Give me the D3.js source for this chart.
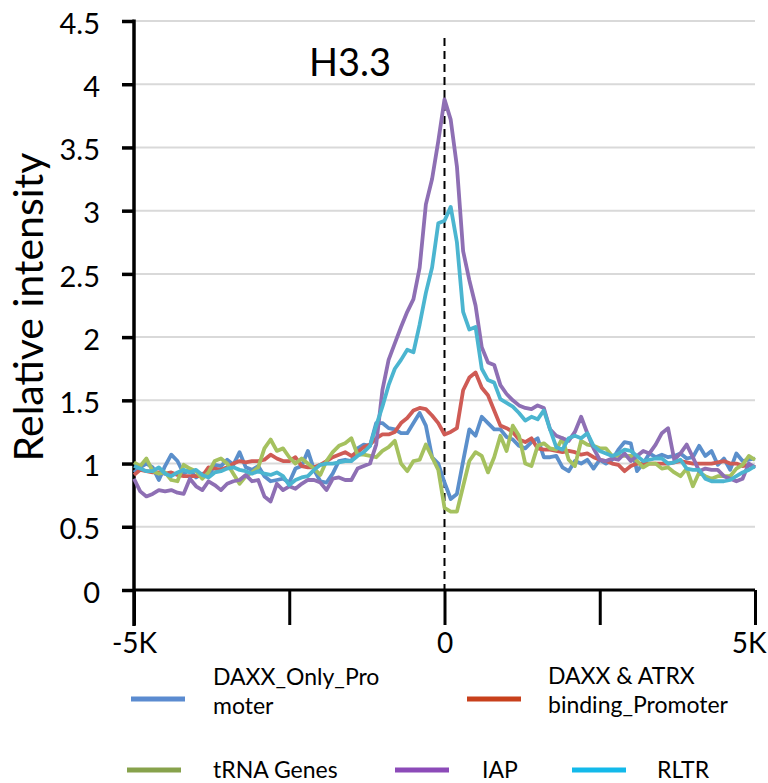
<!DOCTYPE html>
<html>
<head>
<meta charset="utf-8">
<script src="https://cdn.jsdelivr.net/npm/d3@7"></script>
<style>
  html, body { margin: 0; padding: 0; background: #fff; }
  svg { display: block; font-family: Lato, "Open Sans", sans-serif; }
</style>
</head>
<body>
<svg id="chart" width="768" height="783"></svg>
<script>
// Distance from the site centre, in bp (100 bp bins)
const positions = d3.range(-5000, 5001, 100);

const daxxOnly = [0.93,0.97,1.00,0.97,0.87,0.98,1.07,1.02,0.92,0.95,0.89,0.92,0.90,0.99,0.98,1.03,0.99,1.09,0.97,0.95,
  0.98,0.90,0.86,0.87,0.88,0.85,0.96,0.98,1.10,0.95,0.86,0.85,0.92,1.02,1.03,1.02,1.12,1.15,1.14,1.32,
  1.32,1.28,1.27,1.24,1.24,1.32,1.40,1.30,1.05,1.00,0.85,0.72,0.76,1.02,1.27,1.22,1.37,1.32,1.27,1.27,
  1.21,1.19,1.14,1.12,1.17,1.20,1.05,1.05,1.06,0.97,0.94,1.02,1.00,1.03,0.96,1.03,1.00,1.03,1.11,1.17,
  1.16,0.94,1.00,1.08,1.05,1.07,1.05,1.06,1.08,1.04,1.05,1.14,1.06,1.10,0.99,1.04,0.95,1.08,1.02,1.03,1.04];

const daxxAtrx = [0.91,0.95,0.94,0.93,0.93,0.92,0.93,0.91,0.90,0.90,0.90,0.90,0.97,0.96,0.95,0.97,1.00,1.02,1.01,1.02,
  1.02,1.03,1.07,1.04,1.02,1.02,1.05,0.98,0.97,0.97,0.99,1.02,1.05,1.07,1.09,1.06,1.09,1.13,1.15,1.20,
  1.23,1.23,1.25,1.32,1.36,1.42,1.44,1.43,1.38,1.32,1.23,1.25,1.28,1.58,1.68,1.72,1.60,1.54,1.42,1.30,
  1.28,1.25,1.19,1.17,1.20,1.12,1.11,1.11,1.10,1.09,1.10,1.09,1.07,1.08,1.05,1.03,1.02,1.00,0.99,0.94,
  0.98,1.00,1.00,1.00,1.00,1.00,1.00,1.01,1.02,1.01,1.00,1.00,1.00,1.00,1.01,1.02,1.00,1.00,0.98,0.99,0.97];

const trna = [1.01,0.98,1.04,0.94,0.92,0.93,0.87,0.86,0.99,0.96,0.94,0.88,0.93,1.02,1.04,1.00,0.92,0.84,0.90,0.93,
  0.97,1.12,1.19,1.10,1.12,1.05,1.00,1.04,1.00,0.96,0.91,1.02,1.09,1.14,1.16,1.20,1.07,1.07,1.06,1.05,
  1.10,1.13,1.18,1.00,0.94,1.02,1.03,1.15,1.05,0.95,0.65,0.62,0.62,0.82,1.02,1.09,1.06,0.93,1.05,1.22,
  1.10,1.30,1.22,1.00,0.98,1.14,1.16,1.12,1.11,1.20,1.03,0.98,1.18,1.15,1.14,1.12,1.12,1.06,1.06,1.06,
  1.06,1.02,0.97,1.00,1.00,0.96,0.97,0.93,0.90,0.96,0.82,0.93,0.90,0.88,0.90,0.90,0.90,0.96,0.99,1.06,1.03];

const iap = [0.88,0.78,0.74,0.76,0.79,0.78,0.79,0.77,0.76,0.88,0.82,0.79,0.86,0.83,0.79,0.84,0.86,0.87,0.91,0.86,
  0.87,0.74,0.70,0.84,0.79,0.82,0.80,0.84,0.87,0.87,0.85,0.79,0.88,0.89,0.87,0.87,0.96,0.98,1.00,1.15,
  1.58,1.82,1.95,2.08,2.20,2.30,2.55,3.05,3.25,3.55,3.88,3.72,3.35,2.68,2.45,2.25,1.92,1.80,1.78,1.62,
  1.55,1.50,1.46,1.44,1.43,1.46,1.44,1.27,1.22,1.20,1.18,1.25,1.37,1.24,1.12,1.03,1.02,1.04,1.03,1.08,
  1.02,1.06,1.10,1.08,1.15,1.24,1.28,1.03,1.08,1.15,1.05,0.94,0.96,0.95,0.95,0.90,0.88,0.86,0.88,1.00,0.97];

const rltr = [0.98,0.96,0.94,0.94,0.97,0.92,0.90,0.93,0.95,0.93,0.95,0.91,0.89,0.93,0.94,0.96,0.97,0.95,0.94,0.92,
  0.94,0.92,0.91,0.93,0.90,0.83,0.87,0.89,0.90,0.95,0.99,1.00,1.00,1.01,1.02,1.02,1.06,1.09,1.14,1.30,
  1.45,1.62,1.75,1.82,1.90,1.88,2.10,2.35,2.55,2.90,2.92,3.03,2.75,2.20,2.06,2.08,1.75,1.66,1.64,1.51,
  1.48,1.45,1.40,1.34,1.37,1.35,1.42,1.27,1.13,1.11,1.20,1.22,1.20,1.24,1.14,1.10,1.08,1.06,1.08,1.11,
  1.10,1.06,1.02,1.03,1.04,1.04,1.00,1.01,1.03,0.96,0.95,0.95,0.88,0.86,0.86,0.86,0.87,0.90,0.93,0.95,0.98];

const seriesNames = ["DAXX_Only_Promoter", "DAXX & ATRX binding_Promoter", "tRNA Genes", "IAP", "RLTR"];
const seriesValues = [daxxOnly, daxxAtrx, trna, iap, rltr];
const lineColors = ["#5b8fcb", "#cf5b55", "#a5c15f", "#8e6fb4", "#4bb5d0"];
const swatchColors = ["#5b8bd0", "#c8401c", "#87a24c", "#8c4bb8", "#13b9ea"];

const yTicks = [0, 0.5, 1, 1.5, 2, 2.5, 3, 3.5, 4, 4.5];
const xTicks = [-5000, -2500, 0, 2500, 5000];
const xTickLabels = {"-5000": "-5K", "0": "0", "5000": "5K"};

const svg = d3.select("#chart");
const x = d3.scaleLinear().domain([-5000, 5000]).range([134, 755]);
const y = d3.scaleLinear().domain([0, 4.5]).range([590, 21]);

// horizontal gridlines
svg.append("g").selectAll("line").data(yTicks.filter(d => d > 0)).join("line")
  .attr("x1", x(-5000)).attr("x2", x(5000))
  .attr("y1", d => y(d)).attr("y2", d => y(d))
  .attr("stroke", "#d9d9d9").attr("stroke-width", 2);

// y axis
const yAxis = svg.append("g").attr("transform", `translate(${x(-5000)},0)`)
  .call(d3.axisLeft(y).tickValues(yTicks).tickSize(12).tickPadding(22).tickFormat(d3.format("")));
yAxis.select(".domain").remove();
yAxis.selectAll(".tick line").attr("stroke", "#000").attr("stroke-width", 3.5);
yAxis.selectAll(".tick text").attr("font-size", 29).attr("fill", "#000")
  .attr("font-family", "Lato, sans-serif").attr("dy", "0.42em");
svg.append("line").attr("x1", x(-5000)).attr("x2", x(-5000))
  .attr("y1", y(4.5) - 1.5).attr("y2", 626).attr("stroke", "#000").attr("stroke-width", 3.5);

// x axis
const xAxis = svg.append("g").attr("transform", `translate(0,${y(0)})`)
  .call(d3.axisBottom(x).tickValues(xTicks).tickSize(35).tickPadding(8)
    .tickFormat(d => xTickLabels[d] || ""));
xAxis.select(".domain").attr("stroke", "#000").attr("stroke-width", 3)
  .attr("d", `M${x(-5000)},0H${x(5000)}`);
xAxis.selectAll(".tick line").attr("stroke", "#000").attr("stroke-width", 3);
xAxis.selectAll(".tick text").attr("font-size", 28).attr("fill", "#000")
  .attr("font-family", "Lato, sans-serif");
// keep the right-hand label inside the frame
xAxis.selectAll(".tick text").filter(d => d === 5000)
  .attr("text-anchor", "end").attr("x", 766 - x(5000));

// dashed centre line
svg.append("line").attr("x1", x(0)).attr("x2", x(0))
  .attr("y1", 38).attr("y2", y(0))
  .attr("stroke", "#000").attr("stroke-width", 2).attr("stroke-dasharray", "8,5");

// profile lines
const line = d3.line().x((d, i) => x(positions[i])).y(d => y(d));
svg.append("g").selectAll("path").data(seriesValues).join("path")
  .attr("d", d => line(d))
  .attr("fill", "none")
  .attr("stroke", (d, i) => lineColors[i])
  .attr("stroke-width", 3.8)
  .attr("stroke-linejoin", "round");

// title
svg.append("text").attr("x", 350).attr("y", 76).attr("text-anchor", "middle")
  .attr("font-size", 38).attr("fill", "#000").text("H3.3");

// y axis title
svg.append("text").attr("transform", "translate(43,307) rotate(-90)")
  .attr("text-anchor", "middle").attr("font-size", 41).attr("fill", "#000")
  .text("Relative intensity");

// legend
const legendItems = [
  {i: 0, sx: 131, sy: 699, tx: 213, base: 685, lines: ["DAXX_Only_Pro", "moter"]},
  {i: 1, sx: 467, sy: 699, tx: 548, base: 684, lines: ["DAXX & ATRX", "binding_Promoter"]},
  {i: 2, sx: 127, sy: 770, tx: 213, base: 778, lines: ["tRNA Genes"]},
  {i: 3, sx: 395, sy: 770, tx: 482, base: 778, lines: ["IAP"]},
  {i: 4, sx: 572, sy: 770, tx: 657, base: 778, lines: ["RLTR"]}
];
const lg = svg.append("g").attr("font-size", 23).attr("fill", "#000");
legendItems.forEach(it => {
  lg.append("line").attr("x1", it.sx).attr("x2", it.sx + 54)
    .attr("y1", it.sy).attr("y2", it.sy)
    .attr("stroke", swatchColors[it.i]).attr("stroke-width", 5);
  it.lines.forEach((t, k) => {
    lg.append("text").attr("x", it.tx).attr("y", it.base + k * 29).text(t);
  });
});
</script>
</body>
</html>
